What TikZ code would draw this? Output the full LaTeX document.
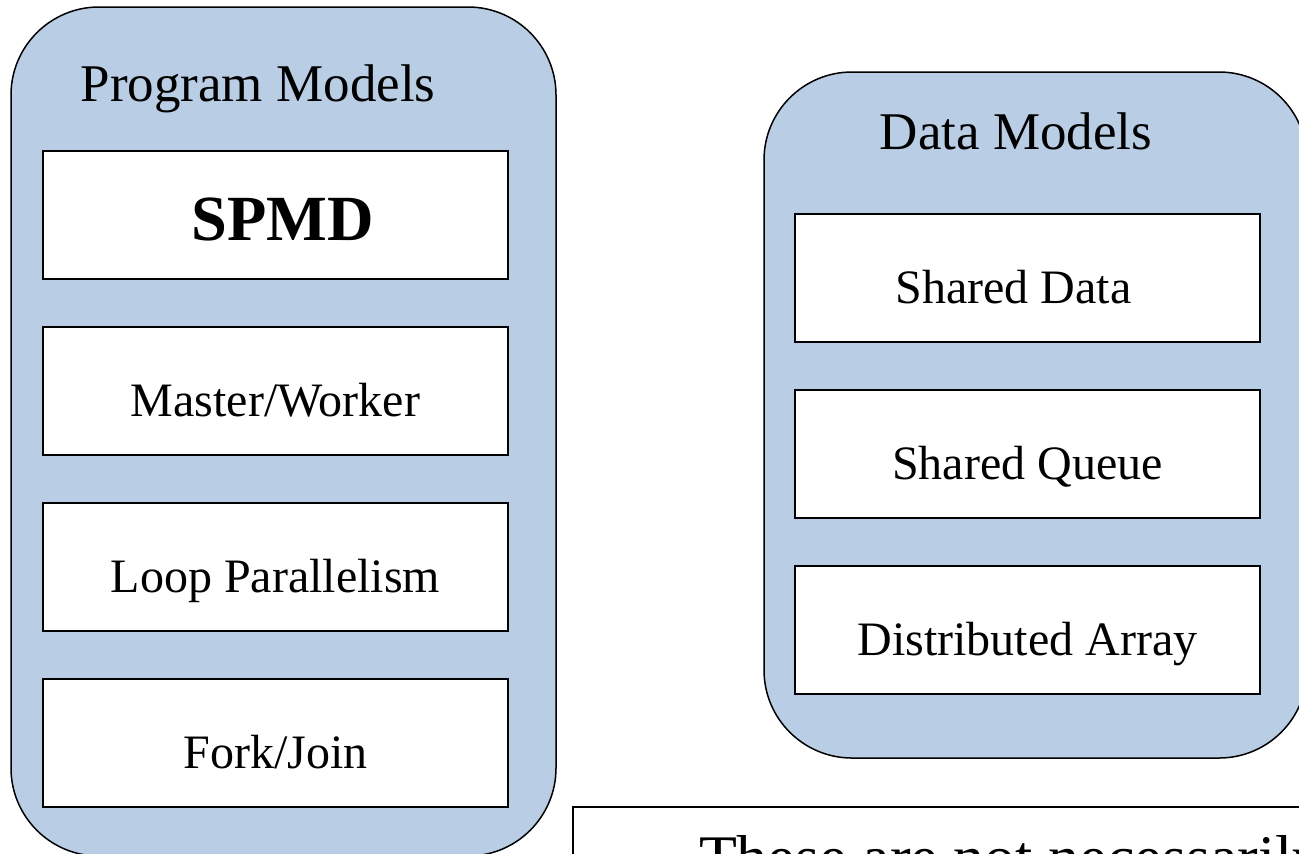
\documentclass[tikz,border=0pt]{standalone}
\usepackage{fontspec}
\setmainfont{Liberation Serif}
\usetikzlibrary{positioning}
\definecolor{panelblue}{RGB}{185,205,229}

\begin{document}
\begin{tikzpicture}[x=0.5pt,y=-0.5pt,node distance=23pt,font=\fontsize{24}{28}\selectfont]

	\tikzstyle{panel}=[draw=black,line width=0.75pt,fill=panelblue,rounded corners=44pt,inner sep=0pt]
	\tikzstyle{model}=[draw=black,line width=1pt,fill=white,minimum width=232.5pt,minimum height=64pt,inner sep=0pt,text height=25pt,text depth=0pt]
	\tikzstyle{heading}=[font=\fontsize{26.5}{30}\selectfont,anchor=base,inner sep=0pt]

	\useasboundingbox (0,0) rectangle (1299,853);
	\clip (0,0) rectangle (1299,853);

	% the two groups
	\node[panel,minimum width=272.5pt,minimum height=424.5pt] (prog) at (283.5,431.5) {};
	\node[panel,minimum width=271.5pt,minimum height=343pt] (data) at (1035.5,415) {};

	\node[heading] (progtitle) at (258,101) {Program Models};
	\node[model,font=\fontsize{32.2}{36}\selectfont\bfseries] (spmd) at (275.5,215) {\hspace*{7pt}SPMD};
	\node[model,below=of spmd] (master) {Master/Worker};
	\node[model,below=of master] (loop) {Loop Parallelism};
	\node[model,below=of loop] (fork) {Fork/Join};

	\node[heading] (datatitle) at (1016,149) {Data Models};
	\node[model] (shared) at (1027.5,278) {Shared Data\hspace*{14pt}};
	\node[model,below=of shared] (queue) {Shared Queue};
	\node[model,below=of queue] (distarray) {Distributed Array};

	% note, cut off at the edge
	\node[draw=black,line width=1pt,fill=white,anchor=north west,inner xsep=63pt,inner ysep=14pt,font=\fontsize{31}{36}\selectfont] (note) at (572,806) {These are not necessarily};
\end{tikzpicture}
\end{document}
